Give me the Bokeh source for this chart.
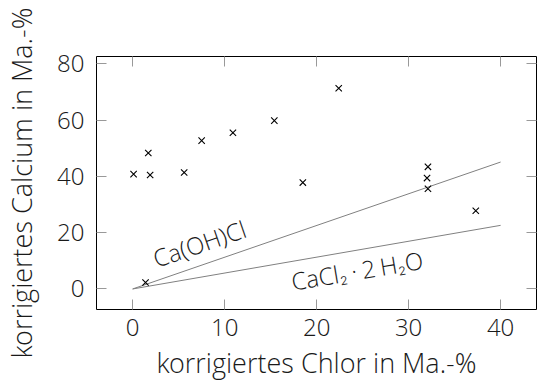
from bokeh.plotting import figure
from bokeh.models import LinearAxis, Range1d, FixedTicker, CustomJSTickFormatter, ColumnDataSource
from bokeh.core.properties import value
from bokeh.embed import file_html
from bokeh.resources import INLINE
import math

# data
chlor = [0.1, 1.7, 1.9, 1.4, 5.6, 7.5, 10.9, 15.4, 18.5, 22.4, 32.1, 32.0, 32.1, 37.3]
calcium = [40.8, 48.3, 40.5, 2.3, 41.4, 52.7, 55.5, 59.8, 37.8, 71.3, 43.4, 39.4, 35.6, 27.8]

line_x = [0, 40]
caohcl_y = [0, 45.1]
cacl2_y = [0, 22.6]

label_texts = ["Ca(OH)Cl", "CaCl\u2082\u2009\u00b7\u20092\u2009H\u2082O"]
label_x = [7.26, 24.4]
label_y = [16.2, 6.6]
label_angle_deg = [19, 9.5]

x_ticks = [0, 10, 20, 30, 40]
y_ticks = [0, 20, 40, 60, 80]

FONT = "Open Sans Light, Lato Light, DejaVu Sans ExtraLight, Open Sans"
FS_TICK = "24px"
FS_LABEL = "27px"
FS_ANN = "24px"
TICK_COLOR = "#999999"
TEXT_COLOR = "#1a1a1a"

p = figure(width=537, height=383, output_backend="svg", toolbar_location=None,
           x_range=Range1d(-3.93, 43.9), y_range=Range1d(-7.3, 82.6),
           min_border_left=95, min_border_right=1, min_border_top=56, min_border_bottom=74)
p.background_fill_color = "white"
p.border_fill_color = "white"
p.outline_line_color = "black"
p.outline_line_width = 1
p.outline_line_alpha = 1.0
p.grid.visible = False

p.xaxis.ticker = FixedTicker(ticks=x_ticks)
p.yaxis.ticker = FixedTicker(ticks=y_ticks)
p.xaxis.axis_label = "korrigiertes Chlor in Ma.-%"
p.yaxis.axis_label = "korrigiertes Calcium in Ma.-%"

for ax in [p.xaxis[0], p.yaxis[0]]:
    ax.axis_line_color = None
    ax.major_tick_in = 10
    ax.major_tick_out = 0
    ax.major_tick_line_color = TICK_COLOR
    ax.minor_tick_line_color = None
    ax.major_label_text_font = FONT
    ax.major_label_text_font_size = FS_TICK
    ax.major_label_text_color = TEXT_COLOR
    ax.axis_label_text_font = FONT
    ax.axis_label_text_font_size = FS_LABEL
    ax.axis_label_text_font_style = "normal"
    ax.axis_label_text_color = TEXT_COLOR

p.xaxis.major_label_standoff = 9
p.xaxis.axis_label_standoff = 5
p.yaxis.major_label_standoff = 12
p.yaxis.axis_label_standoff = 14

for loc, ticks in [("above", x_ticks), ("right", y_ticks)]:
    ax = LinearAxis(ticker=FixedTicker(ticks=ticks),
                    formatter=CustomJSTickFormatter(code="return ''"))
    ax.axis_line_color = None
    ax.major_tick_in = 10
    ax.major_tick_out = 0
    ax.major_tick_line_color = TICK_COLOR
    ax.minor_tick_line_color = None
    ax.major_label_standoff = 0
    p.add_layout(ax, loc)

p.line(line_x, caohcl_y, line_color="#808080", line_width=1)
p.line(line_x, cacl2_y, line_color="#808080", line_width=1)

p.scatter(chlor, calcium, marker="x", size=9, line_color="black", line_width=1.1)

src = ColumnDataSource(dict(x=label_x, y=label_y, text=label_texts,
                            angle=[math.radians(a) for a in label_angle_deg]))
p.text(x="x", y="y", text="text", angle="angle", source=src,
       text_font=value(FONT), text_font_size=FS_ANN, text_color=TEXT_COLOR,
       text_align="center", text_baseline="middle")

open("out.html", "w").write(file_html(p, INLINE))
